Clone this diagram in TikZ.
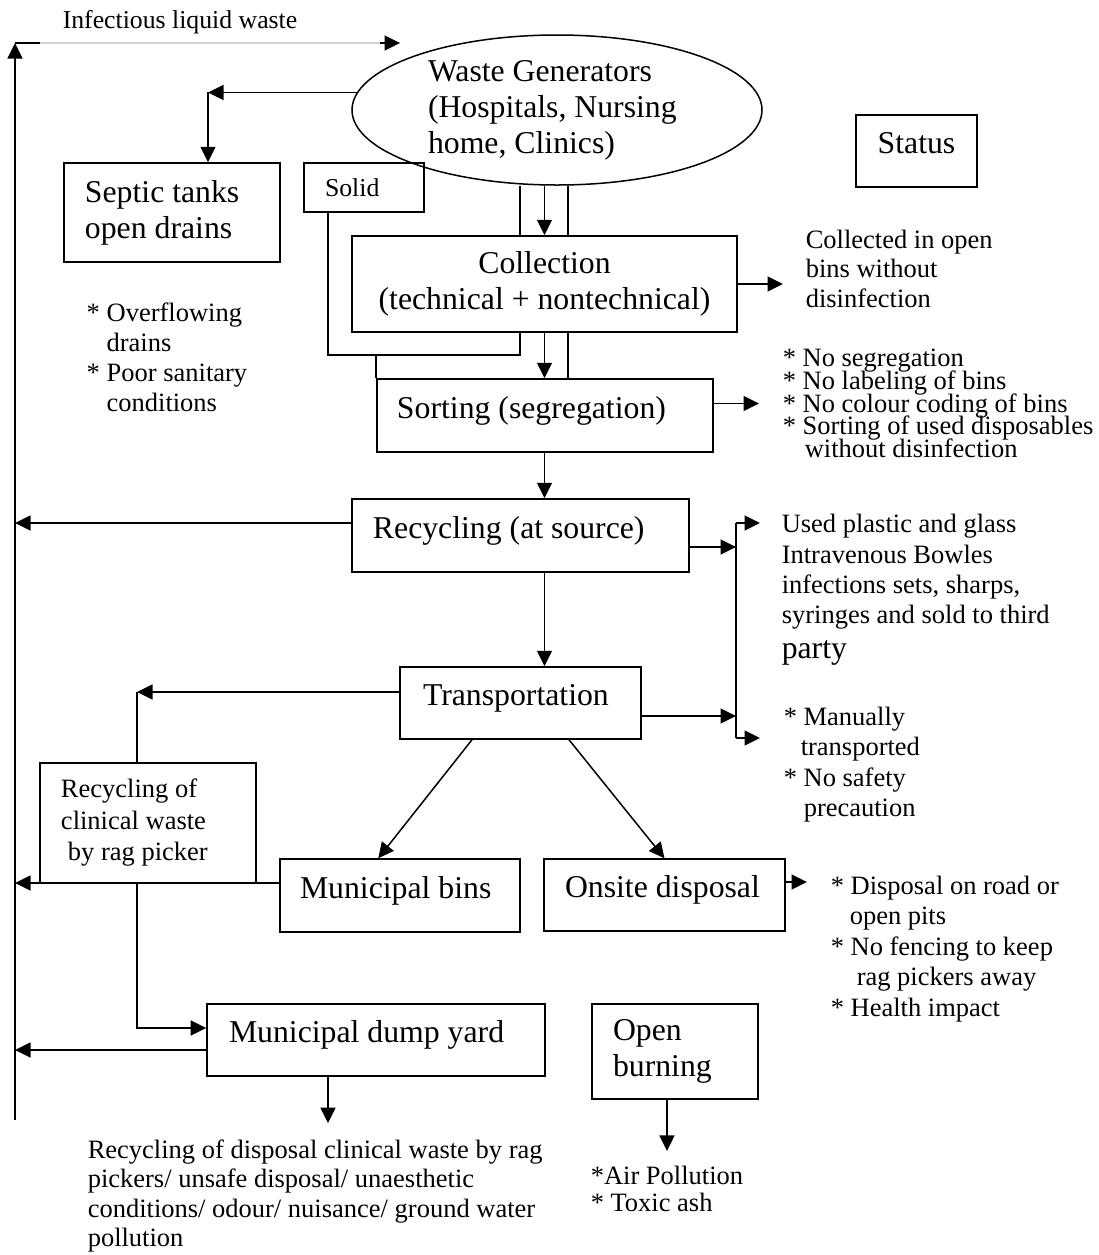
\documentclass[tikz,border=0pt]{standalone}
\usepackage{fontspec}
\setmainfont{Liberation Serif}
\usetikzlibrary{arrows.meta,calc,shapes.geometric}
\newcommand{\boxfont}{\fontsize{12.7pt}{14.4pt}\selectfont}
\newcommand{\notefont}[1]{\fontsize{10.6pt}{#1}\selectfont\lineskiplimit=-10pt}
\begin{document}
\begin{tikzpicture}[x=0.4pt,y=-0.4pt,line width=0.6pt,
    arr/.style={-{Triangle[length=6.2pt,width=6pt]}},
    box/.style={draw,rectangle,inner sep=0pt,font=\boxfont,align=flush left},
    oneline/.style={text height=9pt,text depth=7pt},
    note/.style={inner sep=0pt,align=left,anchor=west}]
    \useasboundingbox (0,0) rectangle (1099,1255);
    % stages
    \node[box,ellipse,minimum width=164pt,minimum height=60pt,text width=103.2pt] (gen) at (557,110) {Waste Generators\\(Hospitals, Nursing\\home, Clinics)};
    \node[box,oneline,minimum width=48.4pt,minimum height=28.8pt,align=center] (status) at (916.5,151) {Status};
    \node[box,minimum width=86.4pt,minimum height=39.6pt,text width=69.6pt] (septic) at (172,212.5) {Septic tanks\\open drains};
    \node[box,font=\fontsize{10.3pt}{12pt}\selectfont,minimum width=48pt,minimum height=19.6pt,text width=31.2pt] (solid) at (364,187.5) {Solid};
    \node[box,minimum width=154pt,minimum height=38.4pt,align=center] (coll) at (544.5,284) {Collection\\(technical + nontechnical)};
    \node[box,oneline,minimum width=134.4pt,minimum height=29.2pt,text width=118.4pt] (sort) at (545,415.5) {Sorting (segregation)};
    \node[box,oneline,minimum width=134.8pt,minimum height=29.2pt,text width=118pt] (recyc) at (520.5,535.5) {Recycling (at source)};
    \node[box,oneline,minimum width=96.4pt,minimum height=28.8pt,text width=78pt] (trans) at (520.5,703) {Transportation};
    \node[box,font=\notefont{12.6pt},minimum width=86.4pt,minimum height=48pt,text width=69.6pt] (rag) at (148,823) {Recycling of\\clinical waste\\\hspace{2.8pt}by rag picker};
    \node[box,oneline,minimum width=96pt,minimum height=29.2pt,text width=80pt] (bins) at (400,895.5) {Municipal bins};
    \node[box,oneline,minimum width=96.4pt,minimum height=28.8pt,text width=79.6pt] (onsite) at (664.5,895) {Onsite disposal};
    \node[box,oneline,minimum width=135.2pt,minimum height=28.8pt,text width=117.6pt] (dump) at (376,1040) {Municipal dump yard};
    \node[box,minimum width=66.4pt,minimum height=38pt,text width=49.6pt] (burn) at (675,1051.5) {Open\\burning};
    % status notes
    \node[note,font=\fontsize{10.3pt}{12pt}\selectfont] (liquid) at (62,22) {Infectious liquid waste};
    \node[note,font=\notefont{11.8pt}] (collected) at (805,268.5) {Collected in open\\bins without\\disinfection};
    \node[note,font=\notefont{12pt}] (overflow) at (86,357) {* Overflowing\\\phantom{* }drains\\* Poor sanitary\\\phantom{* }conditions};
    \node[note,font=\notefont{9.1pt}] (sortlist) at (782,403.5) {* No segregation\\* No labeling of bins\\* No colour coding of bins\\* Sorting of used disposables\\\hspace{8.8pt}without disinfection};
    \node[note,font=\notefont{12.1pt}] (recylist) at (781,590) {Used plastic and glass\\Intravenous Bowles\\infections sets, sharps,\\syringes and sold to third\\[1.9pt]{\boxfont party}};
    \node[note,font=\notefont{12.1pt}] (manual) at (783,764.5) {* Manually\\\hspace{6.8pt}transported\\* No safety\\\hspace{8pt}precaution};
    \node[note,font=\notefont{12.2pt}] (onsitelist) at (830,949) {* Disposal on road or\\\hspace{7.6pt}open pits\\* No fencing to keep\\\hspace{10.4pt}rag pickers away\\* Health impact};
    \node[note,font=\notefont{11.7pt}] (dumplist) at (87,1196) {Recycling of disposal clinical waste by rag\\pickers/ unsafe disposal/ unaesthetic\\conditions/ odour/ nuisance/ ground water\\pollution};
    \node[note,font=\notefont{10.8pt}] (burnlist) at (590,1188.5) {*Air Pollution\\* Toxic ash};
    % liquid waste loop
    \coordinate (lbot) at (15,1120);
    \coordinate (ltop) at (15,43);
    \coordinate (lend) at (400,43);
    \draw[arr] (lbot) -- (ltop);
    \draw[gray!35] (ltop) -- (lend);
    \draw (ltop) -- ++(25,0);
    \draw[arr] ($(lend)+(-20,0)$) -- (lend);
    \coordinate (sepc) at (208,92);
    \draw[arr] (gen.175) -- (gen.175 -| sepc);
    \draw[arr] (gen.175 -| sepc) -- (septic.north -| sepc);
    % solid waste
    \coordinate (xl) at (520,0);
    \coordinate (xr) at (568,0);
    \coordinate (xs) at (328,0);
    \coordinate (yj) at (0,355);
    \draw (gen.south -| xl) -- (coll.north -| xl);
    \draw[arr] (gen.south -| coll.north) -- (coll.north);
    \draw (gen.south -| xr) -- (coll.north -| xr);
    \draw[arr] (coll.south) -- (sort.north -| coll.south);
    \draw (coll.south -| xr) -- (sort.north -| xr);
    \draw (solid.south -| xs) -- (xs |- yj) -- (xl |- yj) -- (coll.south -| xl);
    \draw (sort.north west |- yj) -- (sort.north west);
    \draw[arr] (sort.south -| coll.south) -- (recyc.north -| coll.south);
    \draw[arr] (recyc.south -| coll.south) -- (trans.north -| coll.south);
    % status arrows
    \draw[arr,shorten >=8.8pt] (coll.east) -- (coll.east -| collected.west);
    \draw[arr,shorten >=9.2pt] (sort.east |- sortlist.west) -- (sortlist.west);
    \coordinate (bt) at (736,523);
    \coordinate (bb) at (736,738);
    \draw (bt) -- (bb);
    \draw[arr,shorten >=8.4pt] (bt) -- (bt -| recylist.west);
    \draw[arr,shorten >=9.2pt] (bb) -- (bb -| manual.west);
    \coordinate (rr) at ($(recyc.east)+(0,11.5)$);
    \draw[arr] (rr) -- (rr -| bt);
    \coordinate (tr) at ($(trans.east)+(0,13)$);
    \draw[arr] (tr) -- (tr -| bt);
    \coordinate (rl) at ($(recyc.west)+(0,-12.5)$);
    \draw[arr] (rl) -- (rl -| lbot);
    % disposal routes
    \coordinate (ragx) at (137,0);
    \coordinate (tl) at ($(trans.west)+(0,-11)$);
    \draw[arr] (tl) -- (tl -| ragx);
    \draw (tl -| ragx) -- (rag.north -| ragx);
    \draw[arr] ($(trans.south west)!0.3!(trans.south east)$) -- ($(bins.north west)!0.41!(bins.north east)$);
    \draw[arr] ($(trans.south west)!0.7!(trans.south east)$) -- (onsite.north);
    \coordinate (bl) at ($(bins.west)+(0,-12.5)$);
    \draw[arr] (bl) -- (bl -| lbot);
    \coordinate (dl) at ($(dump.west)+(0,-12)$);
    \draw[arr] (rag.south -| ragx) |- (dl);
    \coordinate (dw) at ($(dump.west)+(0,10)$);
    \draw[arr] (dw) -- (dw -| lbot);
    \coordinate (ol) at ($(onsite.east)+(0,-13)$);
    \draw[arr,shorten >=9.2pt] (ol) -- (ol -| onsitelist.west);
    \draw[arr,shorten >=6.4pt] (dump.south -| xs) -- (dumplist.north -| xs);
    \draw[arr,shorten >=5.6pt] (burn.south -| burnlist.north) -- (burnlist.north);
\end{tikzpicture}
\end{document}
